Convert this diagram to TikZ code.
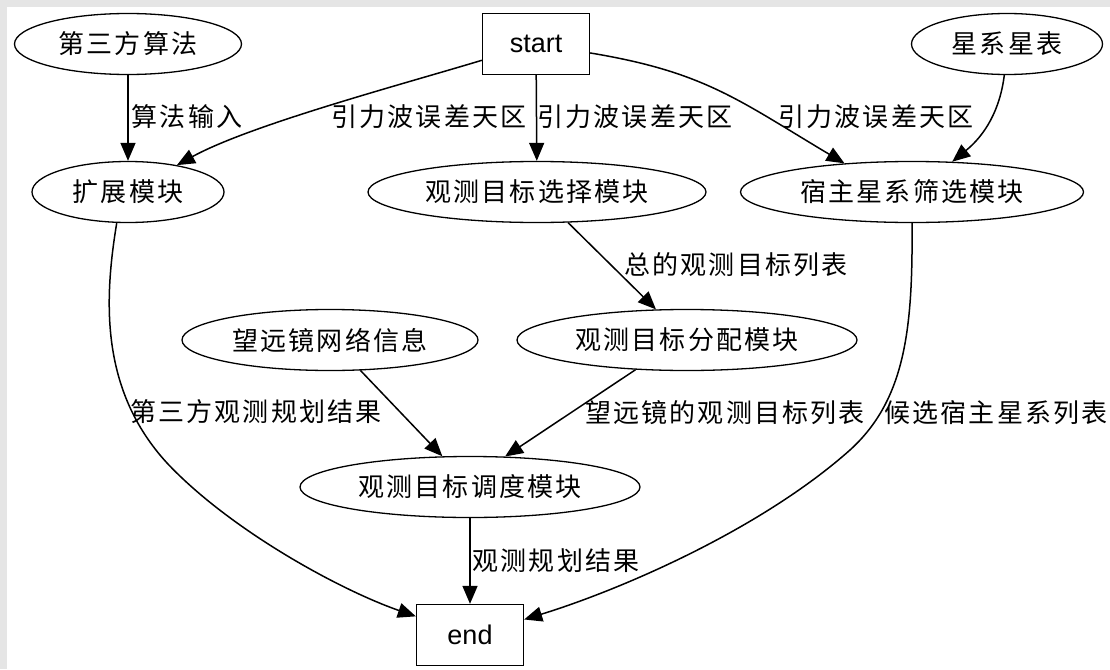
\documentclass[tikz,border=0pt]{standalone}
\usepackage{fontspec}
\setmainfont{Liberation Sans}
\newfontfamily\cjk{Noto Sans CJK SC}[LetterSpace=8]
\usepackage{tikz}
\usetikzlibrary{shapes.geometric, arrows.meta}

\tikzset{
    module/.style={ellipse, draw, line width=1.3pt, inner sep=0pt, minimum height=61pt,
        font=\fontsize{26}{30}\selectfont\cjk},
    term/.style={rectangle, draw, line width=1.3pt, inner sep=0pt, minimum width=107pt,
        minimum height=61pt, font=\fontsize{27}{32}\selectfont},
    flow/.style={line width=1.5pt, -{Triangle[length=18pt, width=15pt]}},
    lbl/.style={inner sep=0pt, font=\fontsize{26}{30}\selectfont\cjk},
}

\begin{document}
\begin{tikzpicture}[x=1pt, y=-1pt]
    % page frame
    \fill[gray!20] (0,0) rectangle (1110,669);
    \fill[white] (7,7) rectangle (1110,669);

    % inputs
    \node[module, minimum width=227pt] (alg) at (128,44) {第三方算法};
    \node[term] (start) at (536,44) {start};
    \node[module, minimum width=191pt] (galcat) at (1007,44) {星系星表};

    % modules
    \node[module, minimum width=192pt] (ext) at (128,192) {扩展模块};
    \node[module, minimum width=338pt] (sel) at (537,192) {观测目标选择模块};
    \node[module, minimum width=343pt] (host) at (912,192) {宿主星系筛选模块};
    \node[module, minimum width=296pt] (tel) at (330,340) {望远镜网络信息};
    \node[module, minimum width=340pt] (alloc) at (687,340) {观测目标分配模块};
    \node[module, minimum width=340pt] (sched) at (470,487) {观测目标调度模块};
    \node[term] (stop) at (470,635) {end};

    % edges
    \draw[flow] (alg) -- (ext);
    \draw[flow] (start) .. controls (400,85) and (250,125) .. (ext);
    \draw[flow] (start) -- (sel);
    \draw[flow] (start) .. controls (705,72) and (738,100) .. (host.157);
    \draw[flow] (galcat.265) .. controls (1000,110) and (985,135) .. (host.37);
    \draw[flow] (sel) -- (alloc);
    \draw[flow] (tel.315) -- (sched.132);
    \draw[flow] (alloc.210) -- (sched.41);
    \draw[flow] (sched) -- (stop);
    \draw[flow] (ext.250) .. controls (104,300) and (100,390) .. (167,463)
        .. controls (230,530) and (340,590) .. (stop.161);
    \draw[flow] (host.270) .. controls (913,330) and (905,400) .. (850,450)
        .. controls (760,530) and (620,590) .. (stop.16);

    % edge labels
    \node[lbl] (l1) at (187,117) {算法输入};
    \node[lbl] (l2) at (429,117) {引力波误差天区};
    \node[lbl] (l3) at (635,117) {引力波误差天区};
    \node[lbl] (l4) at (876,117) {引力波误差天区};
    \node[lbl] (l5) at (736,265) {总的观测目标列表};
    \node[lbl] (l6) at (256,412) {第三方观测规划结果};
    \node[lbl] (l7) at (725,413) {望远镜的观测目标列表};
    \node[lbl] (l8) at (996,413) {候选宿主星系列表};
    \node[lbl] (l9) at (556,561) {观测规划结果};
\end{tikzpicture}
\end{document}
